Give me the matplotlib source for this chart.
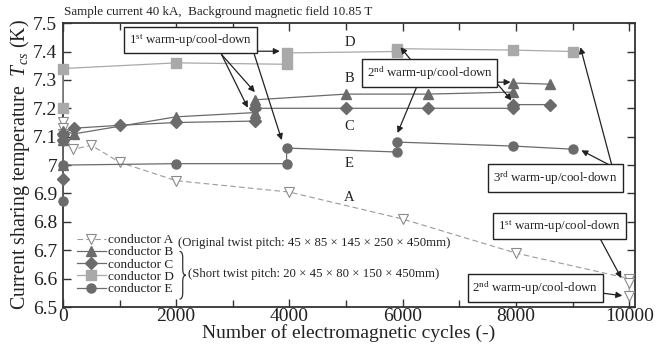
import matplotlib

matplotlib.use("Agg")
import matplotlib.pyplot as plt
from matplotlib.path import Path
from matplotlib.patches import PathPatch
from matplotlib.ticker import MultipleLocator

plt.rcParams["font.family"] = ["Liberation Serif", "DejaVu Serif"]
plt.rcParams["mathtext.fontset"] = "custom"
plt.rcParams["mathtext.rm"] = "Liberation Serif"
plt.rcParams["mathtext.it"] = "Liberation Serif:italic"

# ---- data ----
a_cycles = [0, 0, 0, 180, 500, 1000, 2000, 4000, 6000, 8000, 10000, 10000, 10000]
a_tcs = [7.15, 7.13, 7.11, 7.055, 7.07, 7.01, 6.945, 6.905, 6.81, 6.69, 6.60, 6.585, 6.54]

b_cycles = [0, 0, 0, 0, 200, 2000, 3400, 3400, 3400, 5000, 6450, 7950, 7950, 8600]
b_tcs = [7.0, 7.09, 7.10, 7.12, 7.11, 7.17, 7.185, 7.21, 7.23, 7.25, 7.25, 7.257, 7.289, 7.285]

c_cycles = [0, 0, 0, 200, 1000, 2000, 3400, 3400, 5000, 6450, 7950, 7950, 8600]
c_tcs = [6.95, 7.09, 7.11, 7.13, 7.14, 7.15, 7.155, 7.20, 7.20, 7.20, 7.20, 7.213, 7.213]

d_cycles = [0, 0, 2000, 3950, 3950, 5900, 5900, 7950, 9000]
d_tcs = [7.20, 7.34, 7.36, 7.355, 7.395, 7.40, 7.41, 7.405, 7.40]

e_cycles = [0, 0, 2000, 3950, 3950, 5900, 5900, 7950, 9000]
e_tcs = [6.875, 7.0, 7.005, 7.005, 7.06, 7.046, 7.081, 7.067, 7.056]

dark = "#6b6b6b"
light = "#a9a9a9"
ink = "#222222"

fig = plt.figure(figsize=(6.62, 3.45), dpi=100)
ax = fig.add_axes([0.095, 0.110, 0.864, 0.823])

la, = ax.plot(a_cycles, a_tcs, ls=(0, (5, 3)), lw=0.8, color="#9a9a9a", marker="v",
              ms=7.5, mfc="white", mec="#8a8a8a", mew=0.8, label="conductor A", zorder=3,
              clip_on=False)
lb, = ax.plot(b_cycles, b_tcs, lw=0.9, color=dark, marker="^", ms=7.5, label="conductor B",
              zorder=4, clip_on=False)
lc, = ax.plot(c_cycles, c_tcs, lw=0.9, color=dark, marker="D", ms=6, label="conductor C",
              zorder=4, clip_on=False)
ld, = ax.plot(d_cycles, d_tcs, lw=0.9, color=light, marker="s", ms=6.5, label="conductor D",
              zorder=4, clip_on=False)
le, = ax.plot(e_cycles, e_tcs, lw=0.9, color=dark, marker="o", ms=6.5, label="conductor E",
              zorder=4, clip_on=False)

ax.set_xlim(0, 10100)
ax.set_ylim(6.5, 7.5)
ax.xaxis.set_major_locator(MultipleLocator(2000))
ax.xaxis.set_minor_locator(MultipleLocator(1000))
ax.set_yticks([6.5, 6.6, 6.7, 6.8, 6.9, 7.0, 7.1, 7.2, 7.3, 7.4, 7.5],
              ["6.5", "6.6", "6.7", "6.8", "6.9", "7", "7.1", "7.2", "7.3", "7.4", "7.5"])
ax.tick_params(which="both", direction="in", top=True, right=True, colors="#333333",
               labelcolor=ink, labelsize=14, width=1.0)
ax.tick_params(which="major", length=6)
ax.tick_params(axis="x", which="major", pad=1)
ax.tick_params(axis="y", which="major", pad=4)
ax.tick_params(which="minor", length=5)
for sp in ax.spines.values():
    sp.set_linewidth(1.3)
    sp.set_color("#333333")

ax.set_xlabel("Number of electromagnetic cycles (-)", fontsize=14, labelpad=-1, color=ink)
ax.set_ylabel(r"Current sharing temperature  $T_{cs}$ (K)", fontsize=14.3, labelpad=1, color=ink)

fig.text(0.097, 0.966, "Sample current 40 kA,  Background magnetic field 10.85 T",
         fontsize=9.4, va="center", ha="left", color=ink)

# curve letters
for lbl, yy in [("D", 7.433), ("B", 7.306), ("C", 7.137), ("E", 7.007), ("A", 6.887)]:
    ax.text(5060, yy, lbl, fontsize=10.5, ha="center", va="center", color=ink)

# legend
leg = ax.legend(handles=[la, lb, lc, ld, le], loc="upper left", bbox_to_anchor=(0.022, 0.262),
                frameon=False, fontsize=9.5, labelspacing=0.0, handlelength=2.2,
                handletextpad=0.15, borderaxespad=0.0, borderpad=0.1)
for t in leg.get_texts():
    t.set_color(ink)

ax.text(0.201, 0.225, "(Original twist pitch: 45 × 85 × 145 × 250 × 450mm)",
        transform=ax.transAxes, fontsize=9.2, va="center", ha="left", color=ink)
ax.text(0.219, 0.118, "(Short twist pitch: 20 × 45 × 80 × 150 × 450mm)",
        transform=ax.transAxes, fontsize=9.2, va="center", ha="left", color=ink)

# thin curly brace grouping conductors B-E
bx, bw, by0, by1 = 0.204, 0.011, 0.028, 0.196
bm, bd = (by0 + by1) / 2, 0.022
verts = [(bx, by1), (bx + bw / 2, by1), (bx + bw / 2, by1 - bd),
         (bx + bw / 2, bm + bd),
         (bx + bw / 2, bm), (bx + bw, bm),
         (bx + bw / 2, bm), (bx + bw / 2, bm - bd),
         (bx + bw / 2, by0 + bd),
         (bx + bw / 2, by0), (bx, by0)]
codes = [Path.MOVETO, Path.CURVE3, Path.CURVE3, Path.LINETO, Path.CURVE3, Path.CURVE3,
         Path.CURVE3, Path.CURVE3, Path.LINETO, Path.CURVE3, Path.CURVE3]
ax.add_patch(PathPatch(Path(verts, codes), transform=ax.transAxes, fc="none",
                       ec="#333333", lw=0.9, clip_on=False))

# warm-up / cool-down callouts
box = dict(boxstyle="square,pad=0.38", fc="white", ec=ink, lw=1.0)
arrow = dict(arrowstyle="-|>", color=ink, lw=0.9, mutation_scale=9, shrinkA=0, shrinkB=0)


def callout(text, xy_text, targets):
    for start, end in targets:
        ax.annotate("", xy=end, xytext=start, arrowprops=arrow, zorder=5)
    ax.text(xy_text[0], xy_text[1], text, fontsize=9.3, ha="center", va="center",
            bbox=box, zorder=6, color=ink)


callout(r"1$^{\mathrm{st}}$ warm-up/cool-down", (2260, 7.44), [
    ((3390, 7.401), (3830, 7.401)),
    ((2800, 7.39), (3390, 7.257)),
    ((2800, 7.39), (3265, 7.202)),
    ((3380, 7.39), (3865, 7.088)),
])
callout(r"2$^{\mathrm{nd}}$ warm-up/cool-down", (6474, 7.324), [
    ((6174, 7.363), (5962, 7.415)),
    ((6262, 7.282), (5909, 7.113)),
    ((7660, 7.292), (7905, 7.292)),
    ((7660, 7.289), (7920, 7.228)),
])
callout(r"3$^{\mathrm{rd}}$ warm-up/cool-down", (8697, 6.954), [
    ((9702, 6.993), (9138, 7.415)),
    ((9702, 6.995), (9155, 7.052)),
])
callout(r"1$^{\mathrm{st}}$ warm-up/cool-down", (8767, 6.785), [
    ((9473, 6.746), (9861, 6.602)),
])
callout(r"2$^{\mathrm{nd}}$ warm-up/cool-down", (8344, 6.567), [
    ((9526, 6.549), (9878, 6.540)),
])

fig.savefig("out.png", dpi=100)
plt.close(fig)
